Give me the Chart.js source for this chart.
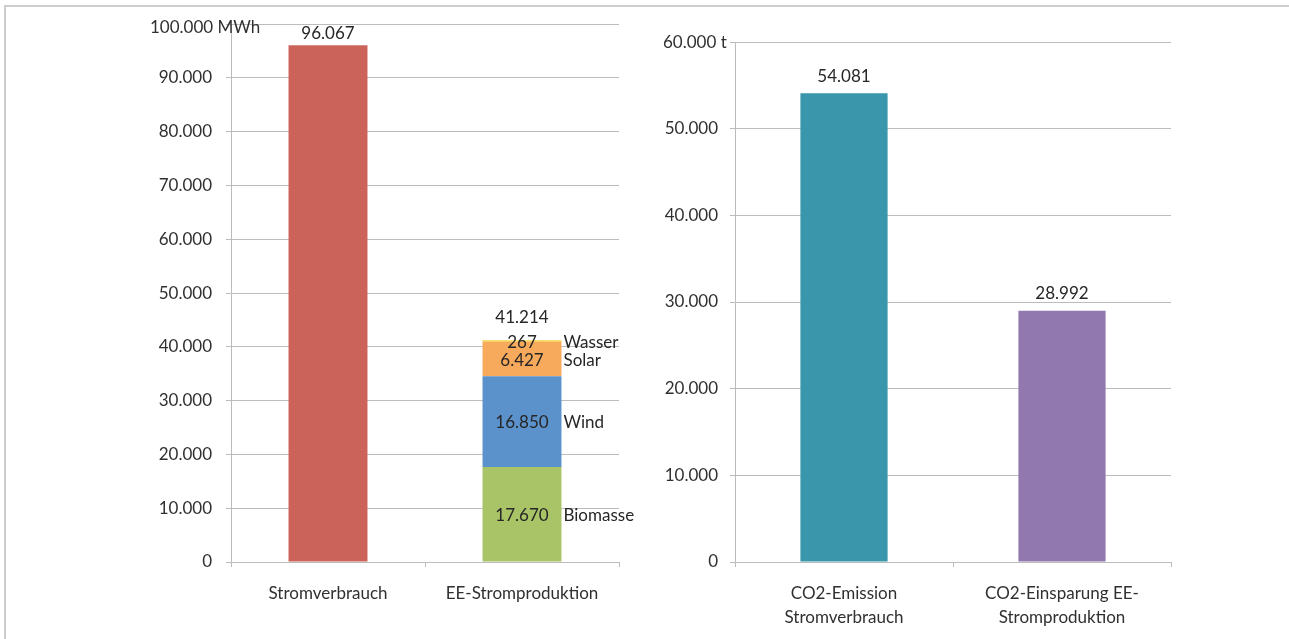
<!DOCTYPE html>
<html>
<head>
<meta charset="utf-8">
<script src="https://cdn.jsdelivr.net/npm/chart.js@4.4.1/dist/chart.umd.min.js"></script>
<style>
  html, body { margin: 0; padding: 0; background: #fff; overflow: hidden; }
  body { width: 1289px; height: 639px; position: relative; }
  .frame { position: absolute; left: 4px; top: 5px; width: 2000px; height: 2000px;
           border-left: 2px solid #cdcdcd; border-top: 2px solid #cdcdcd; }
  #boxStrom { position: absolute; left: 0; top: 0; width: 640px; height: 639px; }
  #boxCO2 { position: absolute; left: 640px; top: 0; width: 649px; height: 639px; }
</style>
</head>
<body>
<div class="frame"></div>
<div id="boxStrom"><canvas id="chartStrom" width="640" height="639"></canvas></div>
<div id="boxCO2"><canvas id="chartCO2" width="649" height="639"></canvas></div>
<script>
// Daten
const categoriesStrom = ['Stromverbrauch', 'EE-Stromproduktion'];
const stromverbrauch = [96067, null];
const biomasse = [null, 17670];
const wind = [null, 16850];
const solar = [null, 6427];
const wasser = [null, 267];

const categoriesCO2 = [['CO2-Emission', 'Stromverbrauch'], ['CO2-Einsparung EE-', 'Stromproduktion']];
const co2Werte = [54081, 28992];

const maxStrom = 100000;
const maxCO2 = 60000;
const unitStrom = '100.000 MWh';
const unitCO2 = '60.000 t';

const textColor = '#303030';
const gridColor = '#bcbcbc';

Chart.defaults.font.family = 'Lato';
Chart.defaults.font.size = 17;
Chart.defaults.color = textColor;

// Zahlen mit Tausenderpunkt
function fmt(v) {
  return String(Math.round(v)).replace(/\B(?=(\d{3})+(?!\d))/g, '.');
}

// Beschriftung der Balken (Werte, Reihennamen, Summe)
const barLabels = {
  id: 'barLabels',
  afterDatasetsDraw(chart, args, opts) {
    const ctx = chart.ctx;
    ctx.save();
    ctx.font = '17px Lato';
    ctx.fillStyle = '#262626';
    ctx.textBaseline = 'middle';
    chart.data.datasets.forEach((ds, i) => {
      const meta = chart.getDatasetMeta(i);
      meta.data.forEach((bar, j) => {
        const v = ds.data[j];
        if (v == null) return;
        if (ds.inside) {
          const cy = (bar.y + bar.base) / 2;
          ctx.textAlign = 'center';
          ctx.fillText(fmt(v), bar.x, cy + 1);
          ctx.textAlign = 'left';
          ctx.fillText(ds.label, bar.x + bar.width / 2 + 2, cy + 1);
        } else {
          ctx.textAlign = 'center';
          ctx.fillText(fmt(v), bar.x, bar.y - opts.topGap);
        }
      });
    });
    // Summe über gestapelte Balken
    if (opts.totalGap) {
      chart.data.labels.forEach((lab, j) => {
        let sum = 0, top = Infinity, n = 0, x = 0;
        chart.data.datasets.forEach((ds, i) => {
          if (!ds.inside || ds.data[j] == null) return;
          const bar = chart.getDatasetMeta(i).data[j];
          sum += ds.data[j];
          top = Math.min(top, bar.y);
          x = bar.x;
          n++;
        });
        if (n > 1) {
          ctx.textAlign = 'center';
          ctx.fillText(fmt(sum), x, top - opts.totalGap);
        }
      });
    }
    ctx.restore();
  }
};

// Einheit an der obersten Achsenbeschriftung
const unitLabel = {
  id: 'unitLabel',
  afterDraw(chart, args, opts) {
    const ctx = chart.ctx;
    const y = chart.scales.y.getPixelForValue(chart.scales.y.max);
    ctx.save();
    ctx.font = '17px Lato';
    ctx.fillStyle = textColor;
    ctx.textAlign = 'left';
    ctx.textBaseline = 'middle';
    ctx.fillText(opts.text, chart.chartArea.left + opts.dx, y + opts.dy);
    ctx.restore();
  }
};

function xScale() {
  return {
    stacked: true,
    grid: { drawOnChartArea: false, drawTicks: true, tickLength: 5, color: gridColor },
    border: { color: gridColor },
    ticks: { padding: 14, font: { size: 17, lineHeight: 1.42 }, color: textColor, maxRotation: 0 },
    afterFit(scale) { scale.height = 75; }
  };
}

function yScale(max, pad, width) {
  return {
    stacked: true,
    min: 0,
    max: max,
    grid: { color: gridColor, tickLength: 5, drawTicks: true },
    border: { color: gridColor },
    ticks: {
      stepSize: 10000,
      padding: pad,
      color: textColor,
      callback: function (value) { return value === this.max ? '' : fmt(value); }
    },
    afterFit(scale) { scale.width = width; }
  };
}

// Stromverbrauch / EE-Stromproduktion
new Chart(document.getElementById('chartStrom'), {
  type: 'bar',
  data: {
    labels: categoriesStrom,
    datasets: [
      { label: 'Stromverbrauch', data: stromverbrauch, backgroundColor: '#cc635b' },
      { label: 'Biomasse', data: biomasse, backgroundColor: '#a8c466', inside: true },
      { label: 'Wind', data: wind, backgroundColor: '#5b92cb', inside: true },
      { label: 'Solar', data: solar, backgroundColor: '#f7a95c', inside: true },
      { label: 'Wasser', data: wasser, backgroundColor: '#f4d33e', inside: true }
    ]
  },
  options: {
    responsive: false,
    animation: false,
    categoryPercentage: 1,
    barPercentage: 0.407,
    layout: { padding: { left: 131, right: 21, top: 24, bottom: 2 } },
    scales: { x: xScale(), y: yScale(maxStrom, 14, 100) },
    plugins: {
      legend: { display: false },
      tooltip: { enabled: false },
      barLabels: { topGap: 12, totalGap: 23 },
      unitLabel: { text: unitStrom, dx: -81, dy: 3 }
    }
  },
  plugins: [barLabels, unitLabel]
});

// CO2
new Chart(document.getElementById('chartCO2'), {
  type: 'bar',
  data: {
    labels: categoriesCO2,
    datasets: [
      { label: 'CO2', data: co2Werte, backgroundColor: ['#3a96ab', '#9179b0'] }
    ]
  },
  options: {
    responsive: false,
    animation: false,
    categoryPercentage: 1,
    barPercentage: 0.4,
    layout: { padding: { left: 15, right: 118, top: 42, bottom: 2 } },
    scales: { x: xScale(), y: yScale(maxCO2, 12, 80) },
    plugins: {
      legend: { display: false },
      tooltip: { enabled: false },
      barLabels: { topGap: 17, totalGap: 0 },
      unitLabel: { text: unitCO2, dx: -72, dy: 1 }
    }
  },
  plugins: [barLabels, unitLabel]
});
</script>
</body>
</html>
